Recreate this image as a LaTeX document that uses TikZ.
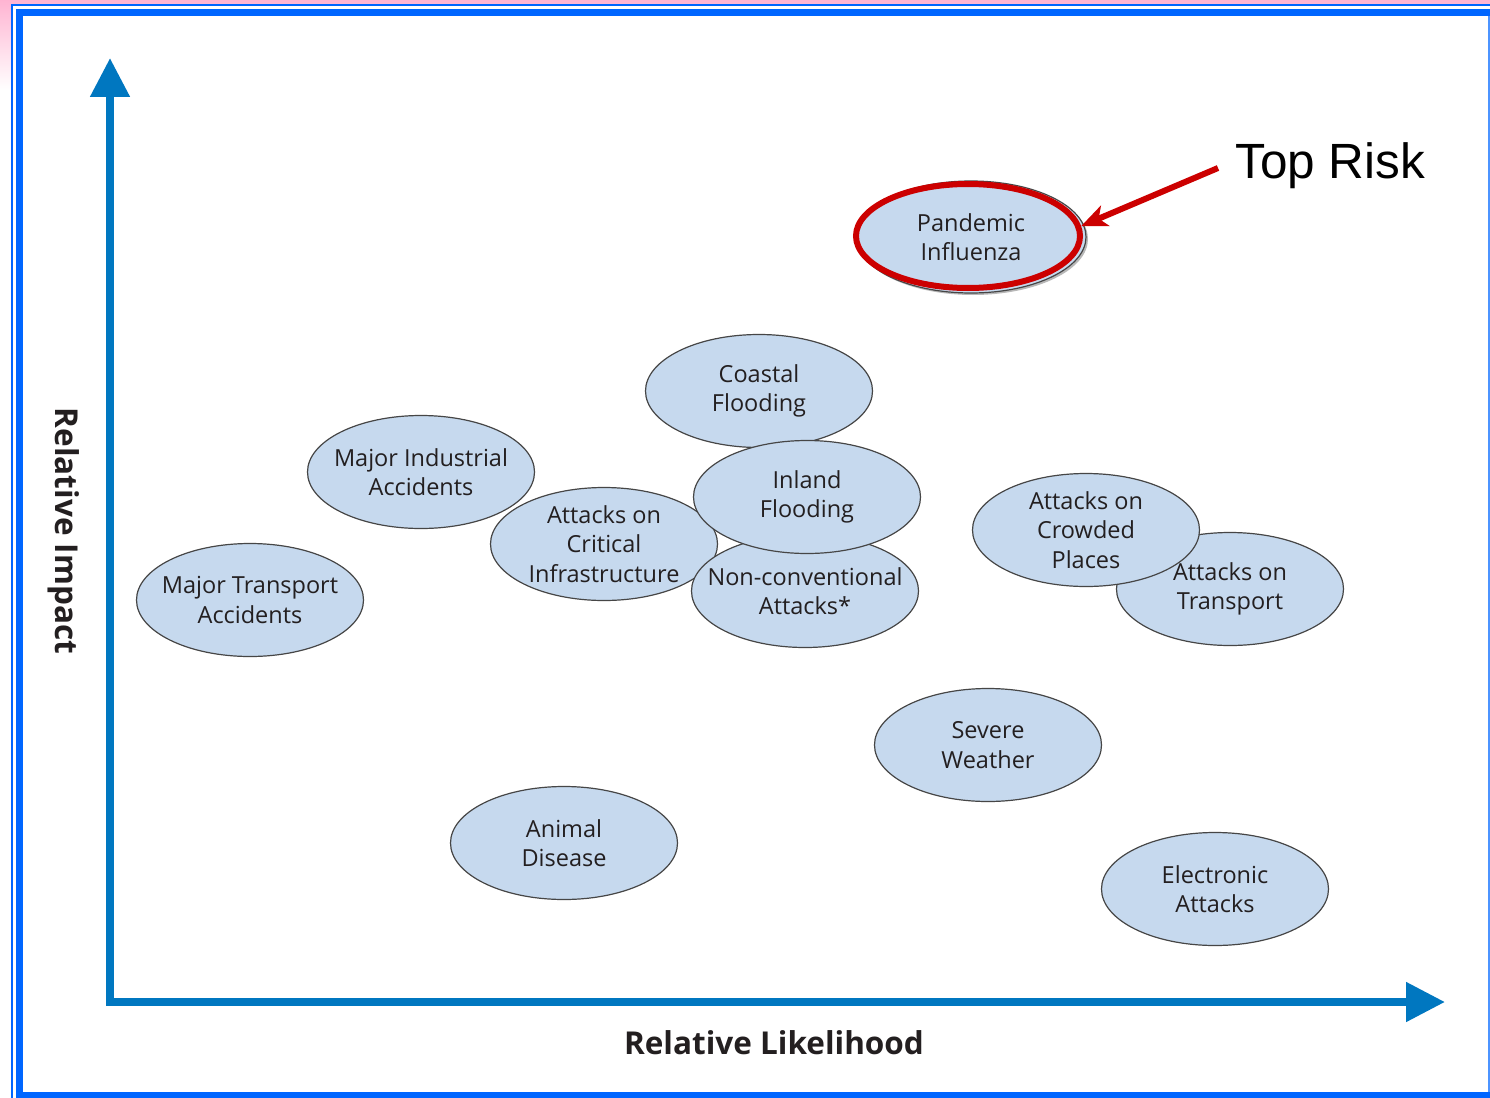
\documentclass[tikz,border=0pt]{standalone}
\usepackage{fontspec}
\setmainfont{Open Sans}
\newfontfamily\arialf{Liberation Sans}
\usetikzlibrary{shapes.geometric,arrows.meta,shadows}
\definecolor{framebl}{RGB}{0,102,255}
\definecolor{axisbl}{RGB}{0,119,192}
\definecolor{ellfill}{RGB}{198,217,238}
\definecolor{elldraw}{RGB}{70,70,70}
\definecolor{riskred}{RGB}{204,0,0}
\definecolor{pinkbg}{RGB}{255,180,210}
\definecolor{txtdark}{RGB}{35,31,32}
\begin{document}
\begin{tikzpicture}[x=1pt,y=-1pt,
  risk/.style={ellipse, fill=ellfill, draw=elldraw, line width=1.2pt,
    minimum width=227pt, minimum height=113pt, inner xsep=-50pt, inner ysep=-10pt,
    align=center, text=txtdark, font=\fontsize{23.5}{29.5}\selectfont},
  axislabel/.style={text=txtdark, inner sep=0pt, font=\bfseries\fontsize{31.5}{34}\selectfont}
]
\useasboundingbox (0,0) rectangle (1490,1097);
\clip (0,0) rectangle (1490,1097);
% background and frame
\shade[top color=pinkbg, bottom color=white] (0,0) rectangle (1490,90);
\fill[white] (13,6) rectangle (1490,1097);
\draw[framebl, line width=2pt] (12,5) rectangle (1520,1130);
\draw[framebl, line width=7pt] (19.5,12.5) rectangle (1510,1095.5);
\fill[white] (23,16) rectangle (1487,1092);
\draw[framebl!70, line width=2pt] (1489,16) -- (1489,1092);

% axes
\draw[axisbl, line width=8pt, line join=miter,
  {Triangle[length=39pt,width=38pt]}-{Triangle[length=39pt,width=38pt]}]
  (110,58) -- (110,1002) -- (1445,1002);
\node[axislabel, anchor=base] (xlabel) at (774,1054) {Relative Likelihood};
\node[axislabel, rotate=-90] (ylabel) at (64,531) {Relative Impact};

% risks
\node[risk] (coastal) at (759,391) {Coastal\\Flooding};
\node[risk] (industrial) at (421,472) {Major Industrial\\Accidents};
\node[risk] (critical) at (604,544) {Attacks on\\Critical\\Infrastructure};
\node[risk] (nonconv) at (805,591) {Non-conventional\\Attacks*};
\node[risk] (inland) at (807,497) {Inland\\Flooding};
\node[risk] (transport) at (1230,589) {Attacks on\\Transport};
\node[risk] (crowded) at (1086,530) {Attacks on\\Crowded\\Places};
\node[risk] (majtrans) at (250,600) {Major Transport\\Accidents};
\node[risk] (severe) at (988,745) {Severe\\Weather};
\node[risk] (animal) at (564,843) {Animal\\Disease};
\node[risk] (electronic) at (1215,889) {Electronic\\Attacks};

% top risk
\node[risk, minimum width=230pt, minimum height=112pt,
  drop shadow={shadow xshift=2pt, shadow yshift=-2pt, fill=black!55}] (pandemic) at (971,237) {Pandemic\\Influenza};
\node[ellipse, draw=riskred, line width=6pt, minimum width=224pt, minimum height=104pt, inner sep=0pt] (ring) at (968,236) {};
\coordinate (trstart) at (1218,168);
\draw[riskred, line width=6pt, -{Stealth[length=26pt,width=22pt,inset=7pt]}] (trstart) -- (ring.5);
\node[font=\arialf\fontsize{49.5}{52}\selectfont, anchor=base west, inner sep=0pt] (toprisk) at (1235,178) {Top Risk};
\end{tikzpicture}
\end{document}
